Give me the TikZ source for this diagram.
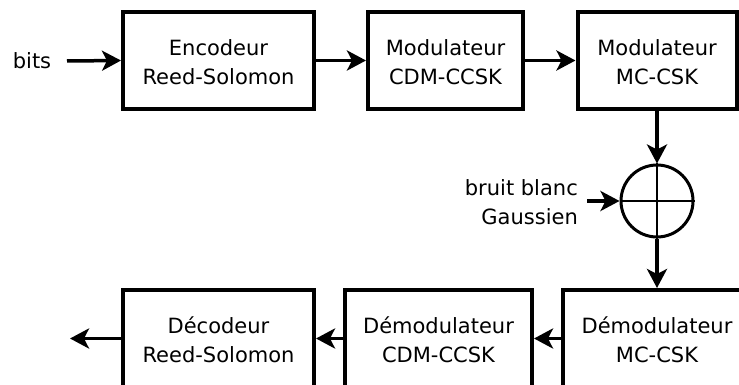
\documentclass[tikz,border=0pt]{standalone}
\usepackage{fontspec}
\setmainfont{DejaVu Sans}
\usetikzlibrary{arrows.meta}
\newcommand\topstrut{\rule{0pt}{20pt}}
\begin{document}
\begin{tikzpicture}[x=1pt,y=-1pt,
  blk/.style={draw, line width=4pt, minimum height=97pt, align=center, inner sep=0pt,
    font=\fontsize{21}{29}\selectfont},
  lbl/.style={inner sep=0pt, font=\fontsize{21}{29}\selectfont},
  arr/.style={line width=3.5pt, -{Stealth[length=19pt,width=20pt,inset=5pt]}}]
\useasboundingbox (0,0) rectangle (739,385);
\clip (0,0) rectangle (739,385);
% top row
\node[blk, minimum width=191pt] (enc) at (218.5,60.5) {\topstrut Encodeur\\Reed-Solomon};
\node[blk, minimum width=155pt] (mod1) at (445.5,60.5) {\topstrut Modulateur\\CDM-CCSK};
\node[blk, minimum width=159pt] (mod2) at (657,60.5) {\topstrut Modulateur\\MC-CSK};
% adder
\node[draw, circle, line width=3pt, minimum size=72pt, inner sep=0pt] (sum) at (657,201) {};
\draw[line width=2.8pt] (sum.north) -- (sum.south);
\draw[line width=2.8pt] (sum.west) -- (sum.east);
% bottom row
\node[blk, minimum width=191pt] (dec) at (218.5,338.5) {\topstrut Décodeur\\Reed-Solomon};
\node[blk, minimum width=187pt] (dcdm) at (438.5,338.5) {\topstrut Démodulateur\\CDM-CCSK};
\node[blk, minimum width=188pt] (dmc) at (657,338.5) {\topstrut Démodulateur\\MC-CSK};
% labels
\node[lbl] (bits) at (32,61) {bits};
\coordinate (bin) at (67,61);
\node[lbl, align=right, anchor=east] (noise) at (578,202) {bruit blanc\\Gaussien};
\coordinate (nin) at (587,201);
\coordinate (out) at (70,338.5);
% connectors
\draw[arr] (bin) -- (enc.west);
\draw[arr] (enc.east) -- (mod1.west);
\draw[arr] (mod1.east) -- (mod2.west);
\draw[arr] (mod2.south) -- (sum.north);
\draw[arr] (nin) -- (sum.west);
\draw[arr] (sum.south) -- (dmc.north);
\draw[arr] (dmc.west) -- (dcdm.east);
\draw[arr] (dcdm.west) -- (dec.east);
\draw[arr] (dec.west) -- (out);
\end{tikzpicture}
\end{document}
